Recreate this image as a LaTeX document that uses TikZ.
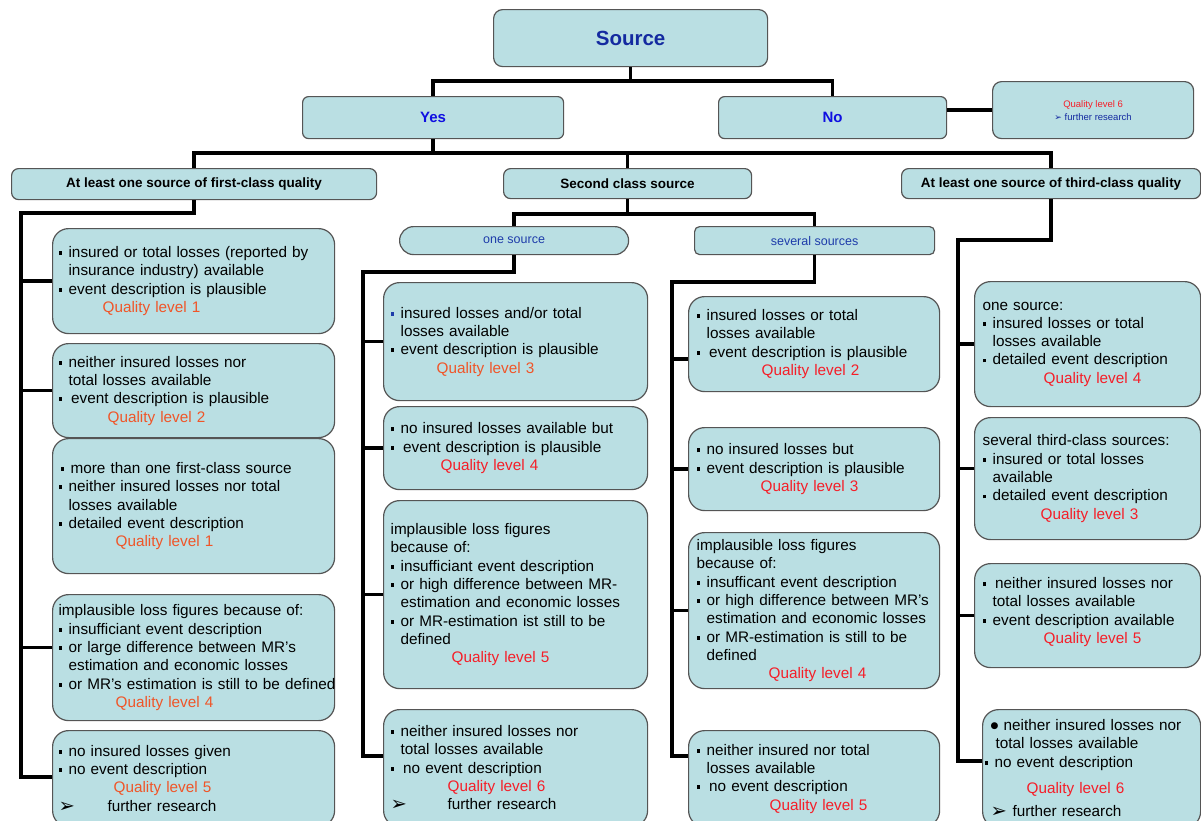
\documentclass[tikz,border=0pt]{standalone}
\usepackage{fontspec}
\setmainfont{Liberation Sans}
\newfontfamily\dejavufam{DejaVu Sans}
\hyphenpenalty=10000
\exhyphenpenalty=10000
\definecolor{boxfill}{RGB}{186,223,227}
\definecolor{boxline}{RGB}{85,85,85}
\definecolor{srcblue}{RGB}{20,42,160}
\definecolor{ynblue}{RGB}{15,15,225}
\definecolor{subblue}{RGB}{30,60,170}
\definecolor{qor}{RGB}{240,85,40}
\definecolor{qred}{RGB}{245,30,40}
\newcommand\mybu{\makebox[10pt][l]{\rule[2.5pt]{3.8pt}{3.8pt}}}
\newcommand\mybub{\makebox[10pt][l]{\textcolor{subblue}{\rule[2.5pt]{3.8pt}{3.8pt}}}}
\newcommand\myind{\hspace*{10pt}}
\newcommand\qlo[2]{\hspace*{#1pt}\textcolor{qor}{Quality level #2}}
\newcommand\qlr[2]{\hspace*{#1pt}\textcolor{qred}{Quality level #2}}
\newcommand\myarr[1]{\makebox[#1pt][l]{\raisebox{-1pt}{\scalebox{1.5}{\dejavufam\fontsize{13}{13}\selectfont ➢}}}}
\tikzset{
  base/.style={draw=boxline, line width=1.2pt, fill=boxfill, anchor=north west, inner sep=0pt},
  box/.style={base, rounded corners=16pt, align=left, font=\fontsize{15.3}{18.3}\selectfont, text=black},
  hdr/.style={base, rounded corners=7pt, font=\fontsize{13.5}{16}\selectfont\bfseries, align=center},
  bcol/.style={box, inner xsep=6pt, text width=270pt, minimum width=282pt},
  ccol/.style={box, inner xsep=7pt, text width=250pt, minimum width=264pt},
  dcol/.style={box, inner xsep=8pt, text width=235pt, minimum width=251pt},
  ecol/.style={box, inner xsep=8pt, text width=210pt, minimum width=226pt},
  conn/.style={line width=3.6pt, black},
}
\begin{document}
\begin{tikzpicture}[x=1pt,y=-1pt]
\useasboundingbox (0,0) rectangle (1201,820);
\fill[white] (0,0) rectangle (1201,820);
\begin{scope}
\clip (0,0) rectangle (1201,820);

% top level
\node[base, rounded corners=9pt, minimum width=274pt, minimum height=57pt,
  font=\fontsize{20.5}{24}\selectfont\bfseries, text=srcblue] (src) at (493,9) {Source};
\node[base, rounded corners=6pt, minimum width=261pt, minimum height=42pt,
  font=\fontsize{15}{18}\selectfont\bfseries, text=ynblue] (yes) at (302,96) {Yes};
\node[base, rounded corners=6pt, minimum width=228pt, minimum height=42pt,
  font=\fontsize{15}{18}\selectfont\bfseries, text=ynblue] (no) at (718,96) {No};
\node[base, rounded corners=9pt, minimum width=201pt, minimum height=57pt, align=center,
  font=\fontsize{9.5}{13}\selectfont] (q6) at (992,81)
  {\textcolor{qred}{Quality level 6}\\\textcolor{srcblue}{{\dejavufam\fontsize{9}{9}\selectfont ➢} further research}};

% headers
\node[hdr, minimum width=365pt, minimum height=31pt] (h1) at (11,168) {At least one source of first-class quality};
\node[hdr, minimum width=248pt, minimum height=30pt] (h2) at (503,168) {Second class source};
\node[hdr, minimum width=299pt, minimum height=30pt] (h3) at (901,168) {At least one source of third-class quality};

\node[base, rounded corners=14pt, minimum width=229pt, minimum height=28pt,
  font=\fontsize{12.5}{14}\selectfont, text=subblue] (one) at (399,226) {one source};
\node[base, rounded corners=5pt, minimum width=240pt, minimum height=28pt,
  font=\fontsize{12.5}{14}\selectfont, text=subblue] (sev) at (694,226) {several sources};

% first-class column
\node[bcol, minimum height=105pt] (B1) at (52,228) {%
\mybu insured or total losses (reported by\\
\myind insurance industry) available\\
\mybu event description is plausible\\
\qlo{44}{1}};
\node[bcol, minimum height=94pt] (B2) at (52,343) {%
\mybu neither insured losses nor\\
\myind total losses available\\
\mybu\,event description is plausible\\
\qlo{49}{2}};
\node[bcol, minimum height=135pt] (B3) at (52,438) {%
\hspace*{2pt}\mybu more than one first-class source\\
\mybu neither insured losses nor total\\
\myind losses available\\
\mybu detailed event description\\
\qlo{57}{1}};
\node[bcol, minimum height=126pt] (B4) at (52,594) {%
implausible loss figures because of:\\
\mybu insufficiant event description\\
\mybu or large difference between MR's\\
\myind estimation and economic losses\\
\mbox{\mybu or MR's estimation is still to be defined}\\
\qlo{57}{4}};
\node[bcol, minimum height=96pt] (B5) at (52,730) {%
\mybu no insured losses given\\
\mybu no event description\\
\qlo{55}{5}\\
\myarr{49}further research};

% second-class, one source
\node[ccol, minimum height=118pt] (C1) at (383,282) {%
\mybub insured losses and/or total\\
\myind losses available\\
\mybu event description is plausible\\
\qlo{46}{3}};
\node[ccol, minimum height=83pt] (C2) at (383,406) {%
\mybu no insured losses available but\\
\mybu\,event description is plausible\\
\qlr{50}{4}};
\node[ccol, minimum height=188pt] (C3) at (383,500) {%
implausible loss figures\\
because of:\\
\mybu insufficiant event description\\
\mybu or high difference between MR-\\
\myind estimation and economic losses\\
\mybu or MR-estimation ist still to be\\
\myind defined\\
\qlr{61}{5}};
\node[ccol, minimum height=117pt] (C4) at (383,709) {%
\mybu neither insured losses nor\\
\myind total losses available\\
\mybu\,no event description\\
\qlr{57}{6}\\
\myarr{57}further research};

% second-class, several sources
\node[dcol, minimum height=95pt] (D1) at (688,296) {%
\mybu insured losses or total\\
\myind losses available\\
\mybu\,event description is plausible\\
\qlr{65}{2}};
\node[dcol, minimum height=83pt] (D2) at (688,427) {%
\mybu no insured losses but\\
\mybu event description is plausible\\
\qlr{64}{3}};
\node[dcol, minimum height=156pt] (D3) at (688,532) {%
implausible loss figures\\
because of:\\
\mybu insufficant event description\\
\mbox{\mybu or high difference between MR's}\\
\myind estimation and economic losses\\
\mybu or MR-estimation is still to be\\
\myind defined\\
\qlr{72}{4}};
\node[dcol, minimum height=96pt] (D4) at (688,730) {%
\mybu neither insured nor total\\
\myind losses available\\
\mybu\,no event description\\
\qlr{73}{5}};

% third-class column
\node[ecol, minimum height=125pt] (E1) at (974,281) {%
one source:\\
\mybu insured losses or total\\
\myind losses available\\
\mybu detailed event description\\
\qlr{61}{4}};
\node[ecol, minimum height=122pt] (E2) at (974,417) {%
several third-class sources:\\
\mybu insured or total losses\\
\myind available\\
\mybu detailed event description\\
\qlr{58}{3}};
\node[ecol, minimum height=104pt] (E3) at (974,563) {%
\mybu\,neither insured losses nor\\
\myind total losses available\\
\mybu event description available\\
\qlr{61}{5}\\[-8pt]\mbox{}};
\node[box, inner xsep=8pt, text width=202pt, minimum width=218pt, minimum height=118pt] (E4) at (982,709) {%
\makebox[13pt][l]{\raisebox{2pt}{\dejavufam\fontsize{9}{9}\selectfont ●}}neither insured losses nor\\
\hspace*{5pt}total losses available\\
\hspace*{-6pt}\mybu no event description\\[8pt]
\qlr{36}{6}\\[5pt]
\myarr{22}further research};

% connectors
\draw[conn] (src.south) -- ++(0,14) -| (yes.north);
\draw[conn] (src.south) ++(0,14) -| (no.north);
\draw[conn] (no.east |- q6.west) -- (q6.west);
\draw[conn] (yes.south) -- ++(0,14) -| (h1.north);
\draw[conn] (yes.south) ++(0,14) -| (h2.north);
\draw[conn] (yes.south) ++(0,14) -| (h3.north);

\coordinate (bend) at (21,777);
\draw[conn] (h1.south) -- ++(0,13) -| (bend) -- (bend -| B5.west);
\draw[conn] (B1.west) -- (B1.west -| bend);
\draw[conn] (B2.west) -- (B2.west -| bend);
\draw[conn] ([yshift=10pt]B4.west) -- ([yshift=10pt]B4.west -| bend);

\draw[conn] (h2.south) -- ++(0,15) -| (one.north);
\draw[conn] (h2.south) ++(0,15) -| (sev.north);

\coordinate (cend) at (363,756);
\draw[conn] (one.south) -- ++(0,17) -| (cend) -- (cend -| C4.west);
\draw[conn] (C1.west) -- (C1.west -| cend);
\draw[conn] (C2.west) -- (C2.west -| cend);
\draw[conn] (C3.west) -- (C3.west -| cend);

\coordinate (dend) at (672,756);
\draw[conn] (sev.south) -- ++(0,27) -| (dend) -- (dend -| D4.west);
\draw[conn] ([yshift=-15pt]D1.west) -- ([yshift=-15pt]D1.west -| dend);
\draw[conn] (D2.west) -- (D2.west -| dend);
\draw[conn] (D3.west) -- (D3.west -| dend);

\coordinate (eend) at (958,761);
\draw[conn] (h3.south) -- ++(0,41) -| (eend) -- (eend -| E4.west);
\draw[conn] (E1.west) -- (E1.west -| eend);
\draw[conn] ([yshift=10pt]E2.west) -- ([yshift=10pt]E2.west -| eend);
\draw[conn] (E3.west) -- (E3.west -| eend);
\end{scope}
\end{tikzpicture}
\end{document}
